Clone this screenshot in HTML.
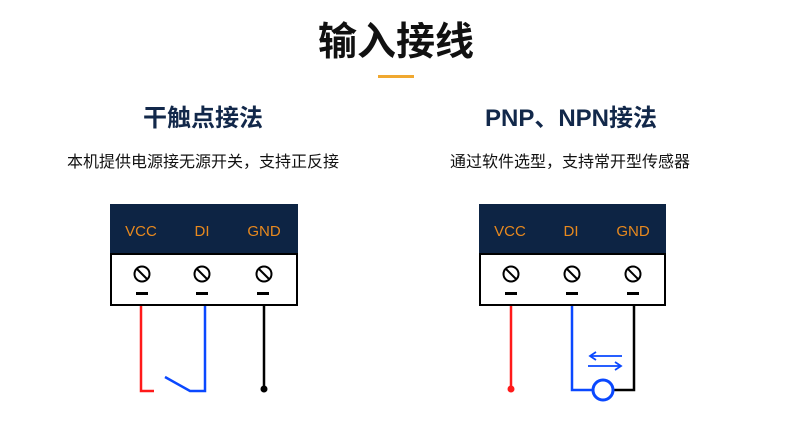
<!DOCTYPE html>
<html><head><meta charset="utf-8"><style>
body{margin:0;width:790px;height:433px;background:#fff;position:relative;overflow:hidden;font-family:"Liberation Sans","Noto Sans CJK SC",sans-serif}
.t{position:absolute;white-space:nowrap;text-align:center;transform:translateX(-50%)}
</style></head><body>
<div class="t" style="left:396px;top:20px;font-size:39px;font-weight:bold;color:#111;line-height:46px">输入接线</div>
<div style="position:absolute;left:378px;top:75px;width:36px;height:3px;background:#f0a830"></div>
<div class="t" style="left:203px;top:104px;font-size:24px;font-weight:bold;color:#12284a;line-height:30px">干触点接法</div>
<div class="t" style="left:571px;top:104px;font-size:24px;font-weight:bold;color:#12284a;line-height:30px">PNP、NPN接法</div>
<div class="t" style="left:203px;top:152px;font-size:16px;color:#111;line-height:22px">本机提供电源接无源开关，支持正反接</div>
<div class="t" style="left:570px;top:152px;font-size:16px;color:#111;line-height:22px">通过软件选型，支持常开型传感器</div>
<svg width="790" height="433" style="position:absolute;left:0;top:0">
<g font-family="Liberation Sans, sans-serif" font-size="15" fill="#e8891e" text-anchor="middle">
<rect x="110" y="204" width="188" height="50" fill="#0d2444"/>
<rect x="111" y="254" width="186" height="51" fill="#fff" stroke="#000" stroke-width="2"/>
<text x="141" y="236">VCC</text><text x="202" y="236">DI</text><text x="264" y="236">GND</text>
<rect x="479" y="204" width="187" height="50" fill="#0d2444"/>
<rect x="480" y="254" width="185" height="51" fill="#fff" stroke="#000" stroke-width="2"/>
<text x="510" y="236">VCC</text><text x="571" y="236">DI</text><text x="633" y="236">GND</text>
</g>
<g stroke="#000" stroke-width="2" fill="none">
<g id="s"><circle cx="142" cy="274" r="7.5"/><line x1="137" y1="269" x2="147" y2="279"/></g>
<use href="#s" x="60"/><use href="#s" x="122"/><use href="#s" x="369"/><use href="#s" x="430"/><use href="#s" x="491"/>
</g>
<g fill="#000">
<rect x="136" y="292" width="12" height="3"/><rect x="196" y="292" width="12" height="3"/><rect x="257" y="292" width="12" height="3"/>
<rect x="505" y="292" width="12" height="3"/><rect x="566" y="292" width="12" height="3"/><rect x="627" y="292" width="12" height="3"/>
</g>
<g fill="none" stroke-width="2.5">
<polyline points="141,306 141,391 154,391" stroke="#ff1a1a"/>
<polyline points="205,306 205,391 190,391 165,377" stroke="#0a48ff"/>
<line x1="264" y1="306" x2="264" y2="388" stroke="#000"/>
<line x1="511" y1="306" x2="511" y2="388" stroke="#ff1a1a"/>
<polyline points="572,306 572,390 593,390" stroke="#0a48ff"/>
<polyline points="613,390 634,390 634,306" stroke="#000"/>
<circle cx="603" cy="390" r="10" stroke="#0a48ff" stroke-width="3"/>
</g>
<circle cx="264" cy="389" r="3.5" fill="#000"/>
<circle cx="511" cy="389" r="3.5" fill="#ff1a1a"/>
<g stroke="#0a48ff" stroke-width="1.8" fill="none">
<line x1="590" y1="356" x2="622" y2="356"/><polyline points="596,352 590,356 596,360"/>
<line x1="588" y1="366" x2="621" y2="366"/><polyline points="615,362 621,366 615,370"/>
</g>
</svg>
</body></html>
